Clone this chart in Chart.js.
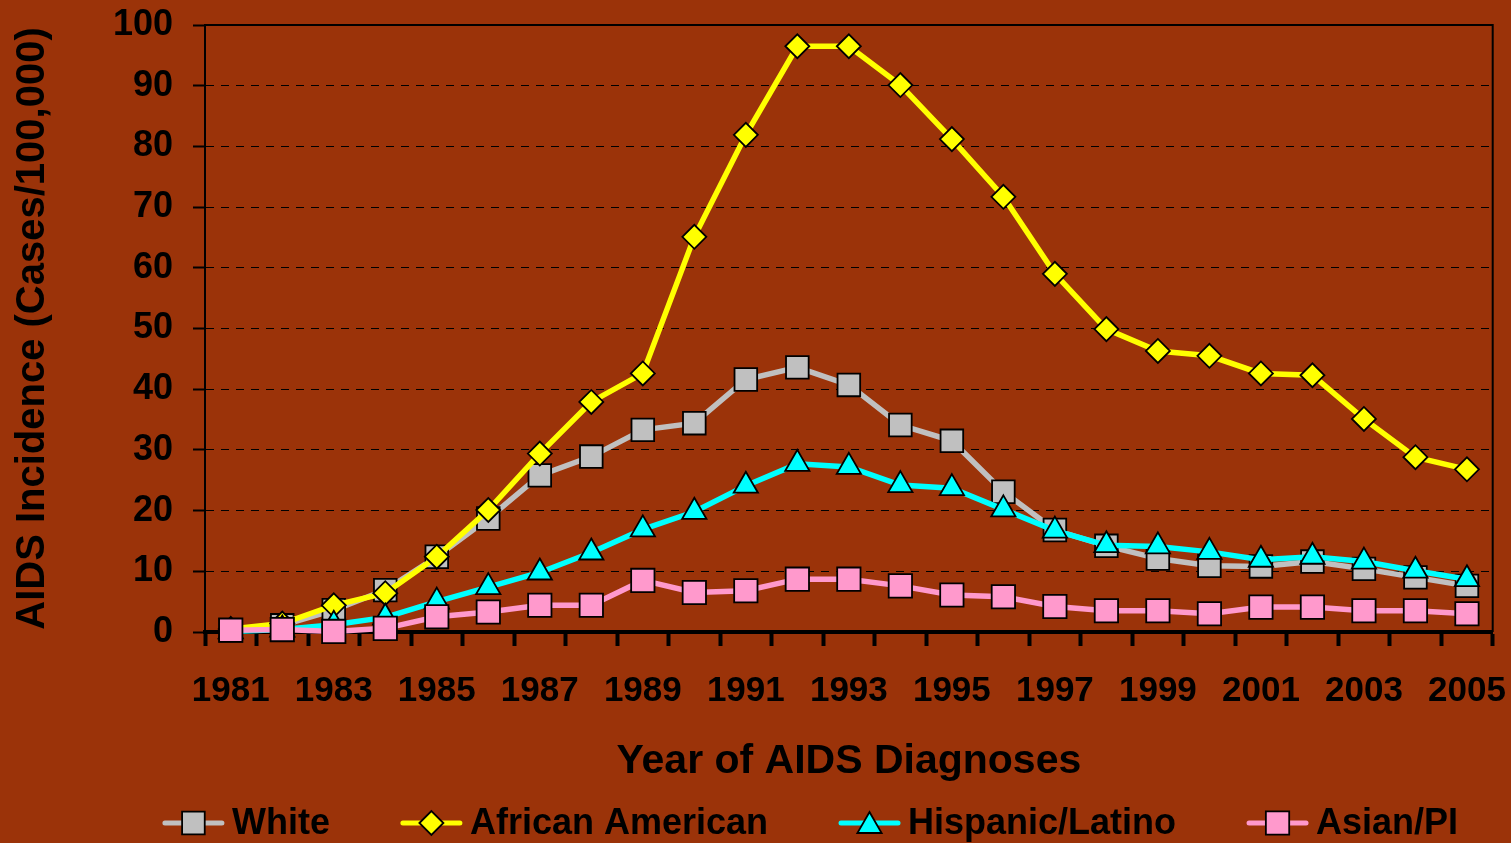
<!DOCTYPE html>
<html>
<head>
<meta charset="utf-8">
<script src="https://cdn.jsdelivr.net/npm/chart.js@4/dist/chart.umd.min.js"></script>
<style>
html,body{margin:0;padding:0;background:#9B3309;overflow:hidden;}
canvas{display:block;}
</style>
</head>
<body>
<canvas id="c" width="1511" height="843"></canvas>
<script>
const years = ['1981','1982','1983','1984','1985','1986','1987','1988','1989','1990','1991','1992','1993','1994','1995','1996','1997','1998','1999','2000','2001','2002','2003','2004','2005'];
const white = [0.3, 1.1, 3.6, 6.9, 12.4, 18.7, 25.8, 28.9, 33.3, 34.4, 41.6, 43.6, 40.7, 34.1, 31.5, 23.1, 16.8, 14.2, 12.1, 10.9, 10.8, 11.6, 10.4, 9.0, 7.6];
const africanAmerican = [0.5, 1.4, 4.4, 6.4, 12.4, 20.1, 29.4, 37.9, 42.6, 65.1, 81.9, 96.5, 96.5, 90.1, 81.2, 71.7, 59.0, 49.9, 46.3, 45.5, 42.6, 42.3, 35.1, 28.8, 26.8];
const hispanicLatino = [0.1, 0.4, 1.2, 2.4, 5.0, 7.4, 9.8, 13.1, 16.9, 19.8, 24.1, 27.7, 27.2, 24.2, 23.7, 20.2, 16.7, 14.3, 14.1, 13.2, 11.9, 12.4, 11.6, 10.1, 8.7];
const asianPI = [0.3, 0.4, 0.1, 0.6, 2.5, 3.3, 4.4, 4.4, 8.5, 6.5, 6.8, 8.7, 8.7, 7.6, 6.1, 5.8, 4.2, 3.5, 3.5, 3.0, 4.1, 4.1, 3.5, 3.5, 3.0];
const seriesNames = ['White', 'African American', 'Hispanic/Latino', 'Asian/PI'];
const yTitle = 'AIDS Incidence (Cases/100,000)';
const xTitle = 'Year of AIDS Diagnoses';

const FONT = '"Liberation Sans", Arial, Helvetica, sans-serif';
const BG = '#9B3309';

function ds(label, data, color, style, radius, order) {
  return {
    label, data, order,
    borderColor: color, backgroundColor: color,
    borderWidth: 5.5, tension: 0, clip: false,
    pointStyle: style, pointRadius: radius, pointHoverRadius: radius,
    pointBackgroundColor: color, pointBorderColor: '#000', pointBorderWidth: 1.8
  };
}

const bgPlugin = {
  id: 'bg',
  beforeDraw(chart) {
    const ctx = chart.ctx;
    ctx.save();
    ctx.fillStyle = BG;
    ctx.fillRect(0, 0, chart.width, chart.height);
    ctx.restore();
  }
};

const framePlugin = {
  id: 'frame',
  beforeDatasetsDraw(chart) {
    const {ctx, chartArea: a} = chart;
    ctx.save();
    ctx.strokeStyle = '#000';
    ctx.lineWidth = 2;
    ctx.setLineDash([]);
    ctx.beginPath();
    ctx.moveTo(a.left, a.top);
    ctx.lineTo(a.right, a.top);
    ctx.lineTo(a.right, a.bottom);
    ctx.stroke();
    ctx.restore();
  }
};

const legendPlugin = {
  id: 'customLegend',
  afterDraw(chart) {
    const ctx = chart.ctx;
    const sets = chart.data.datasets;
    ctx.save();
    ctx.font = 'bold 36px ' + FONT;
    const symW = 63, gap = 7, itemGap = 70, cy = 823;
    const widths = sets.map(d => ctx.measureText(d.label).width);
    let total = 0;
    widths.forEach((w, i) => { total += symW + gap + w + (i < widths.length - 1 ? itemGap : 0); });
    let x = 810 - total / 2;
    sets.forEach((d, i) => {
      ctx.strokeStyle = d.borderColor;
      ctx.lineWidth = 5;
      ctx.lineCap = 'round';
      ctx.beginPath();
      ctx.moveTo(x + 3, cy);
      ctx.lineTo(x + symW - 3, cy);
      ctx.stroke();
      ctx.fillStyle = d.pointBackgroundColor;
      ctx.strokeStyle = '#000';
      ctx.lineWidth = 1.8;
      const py = d.pointStyle === 'triangle' ? cy + 3 : cy;
      Chart.helpers.drawPoint(ctx, {pointStyle: d.pointStyle, radius: d.pointRadius, rotation: 0, borderWidth: 1.8}, x + symW / 2, py);
      ctx.fillStyle = '#000';
      ctx.textBaseline = 'middle';
      ctx.textAlign = 'left';
      ctx.fillText(d.label, x + symW + gap, cy + 1);
      x += symW + gap + widths[i] + itemGap;
    });
    ctx.restore();
  }
};

new Chart(document.getElementById('c'), {
  type: 'line',
  data: {
    labels: years,
    datasets: [
      ds(seriesNames[0], white, '#C0C0C0', 'rect', 16, 4),
      ds(seriesNames[1], africanAmerican, '#FFFF00', 'rectRot', 12, 3),
      ds(seriesNames[2], hispanicLatino, '#00FFFF', 'triangle', 14, 2),
      ds(seriesNames[3], asianPI, '#FF99CC', 'rect', 16.5, 1)
    ]
  },
  options: {
    responsive: false,
    animation: false,
    devicePixelRatio: 1,
    layout: { padding: { top: 25, right: 18, left: 0, bottom: 0 } },
    plugins: { legend: { display: false }, tooltip: { enabled: false } },
    events: [],
    scales: {
      x: {
        type: 'category',
        offset: true,
        afterFit(s) { s.height = 211; s.paddingLeft = 0; s.paddingRight = 0; s.paddingTop = 0; s.paddingBottom = 0; },
        grid: {
          offset: true, drawOnChartArea: false, drawTicks: true,
          tickLength: 14, tickWidth: 4, tickColor: '#000'
        },
        border: { display: true, color: '#000', width: 4 },
        ticks: {
          autoSkip: false, maxRotation: 0, minRotation: 0,
          color: '#000', padding: 24,
          font: { family: FONT, size: 35, weight: 'bold' },
          callback(v, i) { return i % 2 === 0 ? this.getLabelForValue(v) : ''; }
        },
        title: {
          display: true, text: xTitle, color: '#000',
          font: { family: FONT, size: 41, weight: 'bold' },
          padding: { top: 0, bottom: 57 }
        }
      },
      y: {
        min: 0, max: 100,
        afterFit(s) { s.width = 205; s.paddingTop = 0; s.paddingBottom = 0; s.paddingLeft = 0; s.paddingRight = 0; },
        grid: {
          color: '#000', lineWidth: 1,
          drawTicks: true, tickLength: 12, tickWidth: 2, tickColor: '#000', tickBorderDash: []
        },
        border: { display: true, color: '#000', width: 2, dash: [8, 7] },
        ticks: {
          stepSize: 10, color: '#000', padding: 20,
          font: { family: FONT, size: 36, weight: 'bold' }
        },
        title: {
          display: true, text: yTitle, color: '#000',
          font: { family: FONT, size: 40, weight: 'bold' },
          padding: { top: 9, bottom: 0 }
        }
      }
    }
  },
  plugins: [bgPlugin, framePlugin, legendPlugin]
});
</script>
</body>
</html>
